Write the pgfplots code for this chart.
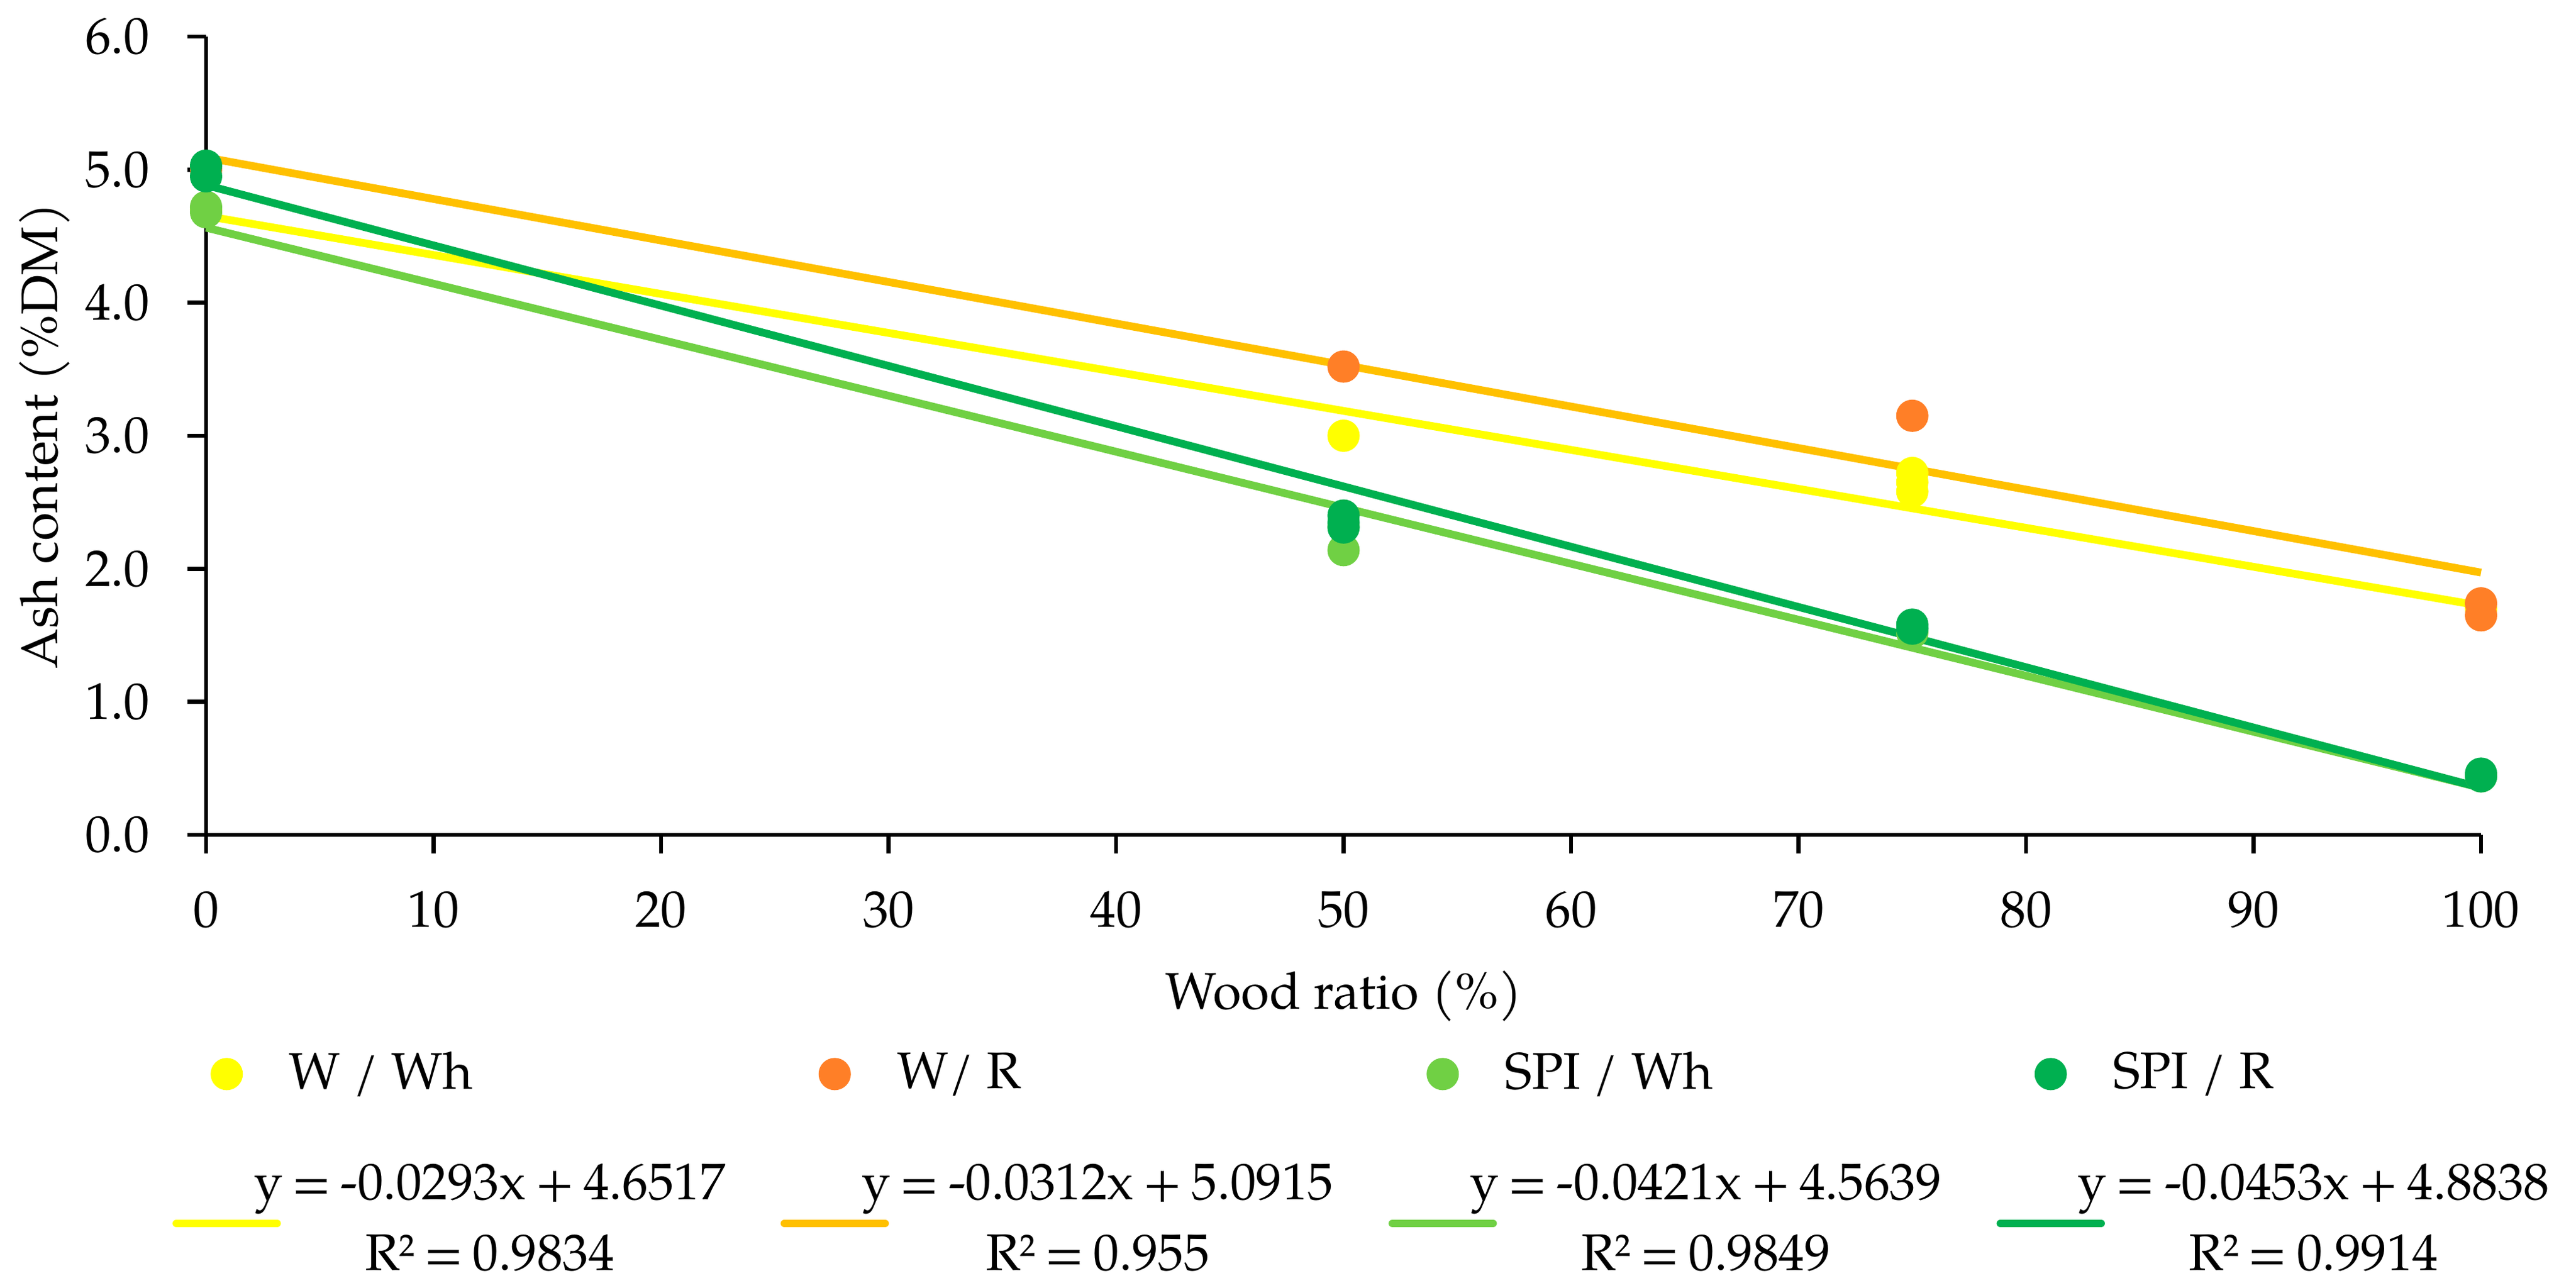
\documentclass[border=0pt]{standalone}
\usepackage{fontspec}
\setmainfont{texgyrepagella}[Extension=.otf, UprightFont=*-regular, BoldFont=*-bold, ItalicFont=*-italic, BoldItalicFont=*-bolditalic]
\usepackage{pgfplots}
\pgfplotsset{compat=1.18}
\definecolor{cYel}{HTML}{FFFF00}
\definecolor{cOrM}{HTML}{FF7F27}
\definecolor{cOrL}{HTML}{FFC000}
\definecolor{cLG}{HTML}{70D044}
\definecolor{cDG}{HTML}{00B050}
\pgfplotsset{
  mkleg/.style={legend image code/.code={\draw[mark repeat=2,mark phase=2,##1] plot coordinates {(0pt,0pt) (8.7pt,0pt) (17.4pt,0pt)};}},
  lnleg/.style={legend image code/.code={\path[draw=none,fill=none] (0pt,0pt) (17.4pt,0pt); \draw[##1,line cap=round] (0.6pt,-4.5pt) -- (16.8pt,-4.5pt);}},
  mk/.style={only marks, mark=*, mark size=2.4pt, color=#1, mark options={draw=none, fill=#1}, mkleg},
  tl/.style={no marks, line width=1.25pt, color=#1, line cap=butt, lnleg},
}
\newcommand{\lab}[1]{\hbox to 70pt{#1\hss}}
\newcommand{\eqn}[2]{\hbox to 70pt{\hspace*{-4.8pt}\makebox[74.3pt][c]{\begin{tabular}{@{}c@{}}\spaceskip=1.5pt\relax #1\\\spaceskip=1.5pt\relax #2\end{tabular}}\hss}}
\begin{document}
\fontsize{8.3}{10}\selectfont
\begin{tikzpicture}
\path[use as bounding box] (-33.2pt,-73pt) rectangle (381.8pt,134.5pt);
\begin{axis}[
  at={(0pt,0pt)}, anchor=south west,
  scale only axis, width=366.5pt, height=128.6pt,
  xmin=0, xmax=100, ymin=0, ymax=6,
  clip=false,
  axis x line=bottom, axis y line=left,
  axis line style={-, line width=0.65pt, black},
  xtick={0,10,...,100}, ytick={0,1,...,6},
  tick align=outside, major tick length=3pt,
  tick style={line width=0.65pt, black},
  /pgf/number format/assume math mode=true,
  ticklabel style={font=\fontsize{8.3}{10}\selectfont},
  yticklabel={\pgfmathprintnumber[fixed,fixed zerofill,precision=1]{\tick}},
  xticklabel style={anchor=north, inner sep=0pt, yshift=-5.9pt},
  yticklabel style={anchor=east, inner sep=0pt, xshift=-5.9pt},
  xlabel={Wood ratio (\%)},
  ylabel={Ash content (\%DM)},
  every axis x label/.style={at={(axis description cs:0.5,-0.2185)}, anchor=base, inner sep=0pt, font=\fontsize{8.3}{10}\selectfont},
  every axis y label/.style={at={(axis description cs:-0.06548,0.5)}, rotate=90, anchor=base, inner sep=0pt, font=\fontsize{8.3}{10}\selectfont},
  legend columns=4,
  legend cell align=left,
  legend style={draw=none, fill=none, inner sep=0pt, outer sep=0pt,
    nodes={inner sep=0pt, outer sep=0pt},
    font=\fontsize{8.3}{11.4}\selectfont,
    at={(-0.01473,-0.2714)}, anchor=north west,
    /tikz/every odd column/.style={column sep=1.3pt},
    /tikz/every even column/.style={column sep=9.2pt},
    row sep=8.6pt},
]
% data points
\addplot[mk=cYel] coordinates {(0,4.70) (50,3.00) (75,2.72) (75,2.65) (75,2.58) (100,1.70)};
\addlegendentry{\lab{W / Wh}}
\addplot[mk=cOrM] coordinates {(0,5.00) (50,3.52) (75,3.15) (100,1.74) (100,1.65)};
\addlegendentry{\lab{W/ R}}
\addplot[mk=cLG] coordinates {(0,4.72) (0,4.68) (50,2.32) (50,2.14) (75,1.52) (100,0.44)};
\addlegendentry{\lab{SPI / Wh}}
\addplot[mk=cDG] coordinates {(0,5.03) (0,4.95) (50,2.40) (50,2.35) (50,2.31) (75,1.58) (75,1.55) (100,0.46) (100,0.44)};
\addlegendentry{\lab{SPI / R}}
% trendlines
\addplot[tl=cYel] coordinates {(0,4.6517) (100,1.7217)};
\addlegendentry{\eqn{y = -0.0293x + 4.6517}{R² = 0.9834}}
\addplot[tl=cOrL] coordinates {(0,5.0915) (100,1.9715)};
\addlegendentry{\eqn{y = -0.0312x + 5.0915}{R² = 0.955}}
\addplot[tl=cLG] coordinates {(0,4.5639) (100,0.3539)};
\addlegendentry{\eqn{y = -0.0421x + 4.5639}{R² = 0.9849}}
\addplot[tl=cDG] coordinates {(0,4.8838) (100,0.3538)};
\addlegendentry{\eqn{y = -0.0453x + 4.8838}{R² = 0.9914}}
\end{axis}
\end{tikzpicture}
\end{document}
